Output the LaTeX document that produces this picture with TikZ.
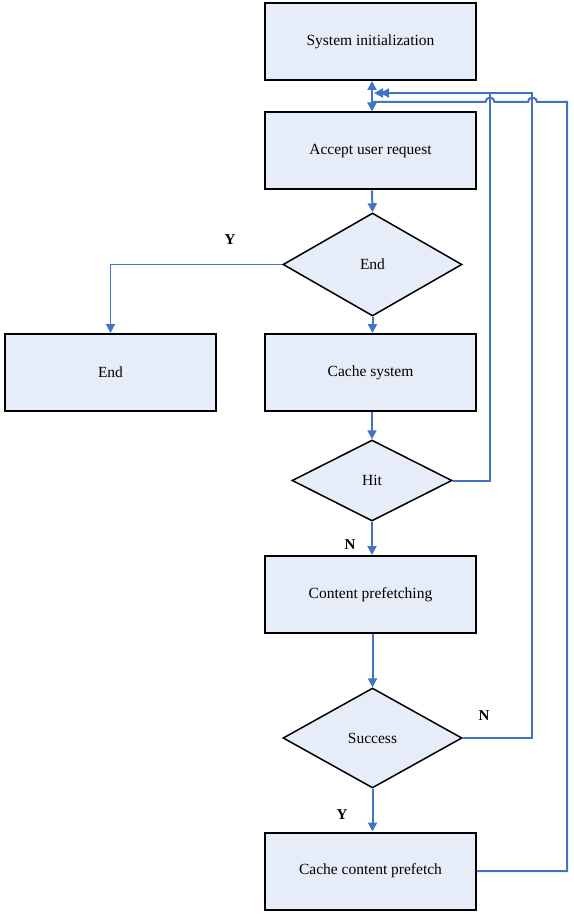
\documentclass[tikz,border=0pt]{standalone}
\usepackage{fontspec}
\setmainfont{Liberation Serif}
\usetikzlibrary{shapes.geometric,arrows.meta}
\definecolor{boxfill}{RGB}{230,237,248}
\definecolor{flow}{RGB}{68,114,196}
\begin{document}
\begin{tikzpicture}[x=1pt,y=-1pt,
  box/.style={draw=black,line width=2pt,fill=boxfill,minimum width=211pt,minimum height=77pt,inner sep=0pt,font=\fontsize{15.5}{18}\selectfont},
  dia/.style={draw=black,line width=1.5pt,fill=boxfill,shape=diamond,inner sep=0pt,font=\fontsize{15.5}{18}\selectfont},
  line/.style={draw=flow,line width=2pt},
  arr/.style={line,-{Triangle[length=9pt,width=9pt]}},
  lab/.style={font=\bfseries\fontsize{15}{18}\selectfont}]
\useasboundingbox (0,0) rectangle (573,917);
\node[box] (init) at (370.5,41.5) {System initialization};
\node[box] (accept) at (370.5,151) {Accept user request};
\node[dia,minimum width=179pt,minimum height=103pt] (enddia) at (372.5,264.5) {End};
\node[box] (endbox) at (110.5,372.5) {End};
\node[box] (cache) at (370.5,372.5) {Cache system};
\node[dia,minimum width=160pt,minimum height=81pt] (hit) at (372,480.5) {Hit};
\node[box] (prefetch) at (370.5,594.5) {Content prefetching};
\node[dia,minimum width=179pt,minimum height=100pt] (success) at (372.5,738) {Success};
\node[box] (ccp) at (370.5,871) {Cache content prefetch};
\coordinate (vx) at (372,93);
\draw[line,{Triangle[length=9pt,width=9pt]}-{Triangle[length=9pt,width=9pt]}] (init.south -| vx) -- (accept.north -| vx);
\draw[arr] (accept.south -| vx) -- (enddia.north);
\draw[arr] (enddia.south) -- (cache.north -| enddia.south);
\draw[arr,line width=1.5pt] (enddia.west) -| (endbox.north);
\draw[arr] (cache.south -| hit.north) -- (hit.north);
\draw[arr] (hit.south) -- (prefetch.north -| hit.south);
\draw[arr] (prefetch.south -| success.north) -- (success.north);
\draw[arr] (success.south) -- (ccp.north -| success.south);
\coordinate (fa) at (490,93);
\coordinate (fb) at (532,93);
\coordinate (fc) at (567,102);
\draw[arr] (hit.east) -| (fa) -- (374,93);
\draw[arr] (success.east) -| (fb) -- (380,93);
\draw[line] (ccp.east) -| (fc) -- (537,102) arc[start angle=0,end angle=-180,radius=4.5] -- (494.5,102) arc[start angle=0,end angle=-180,radius=4.5] -- (372,102);
\node[lab] (ly) at (230,240) {Y};
\node[lab] (ln1) at (350,545) {N};
\node[lab] (ln2) at (484,716) {N};
\node[lab] (ly2) at (342,815) {Y};
\end{tikzpicture}
\end{document}
